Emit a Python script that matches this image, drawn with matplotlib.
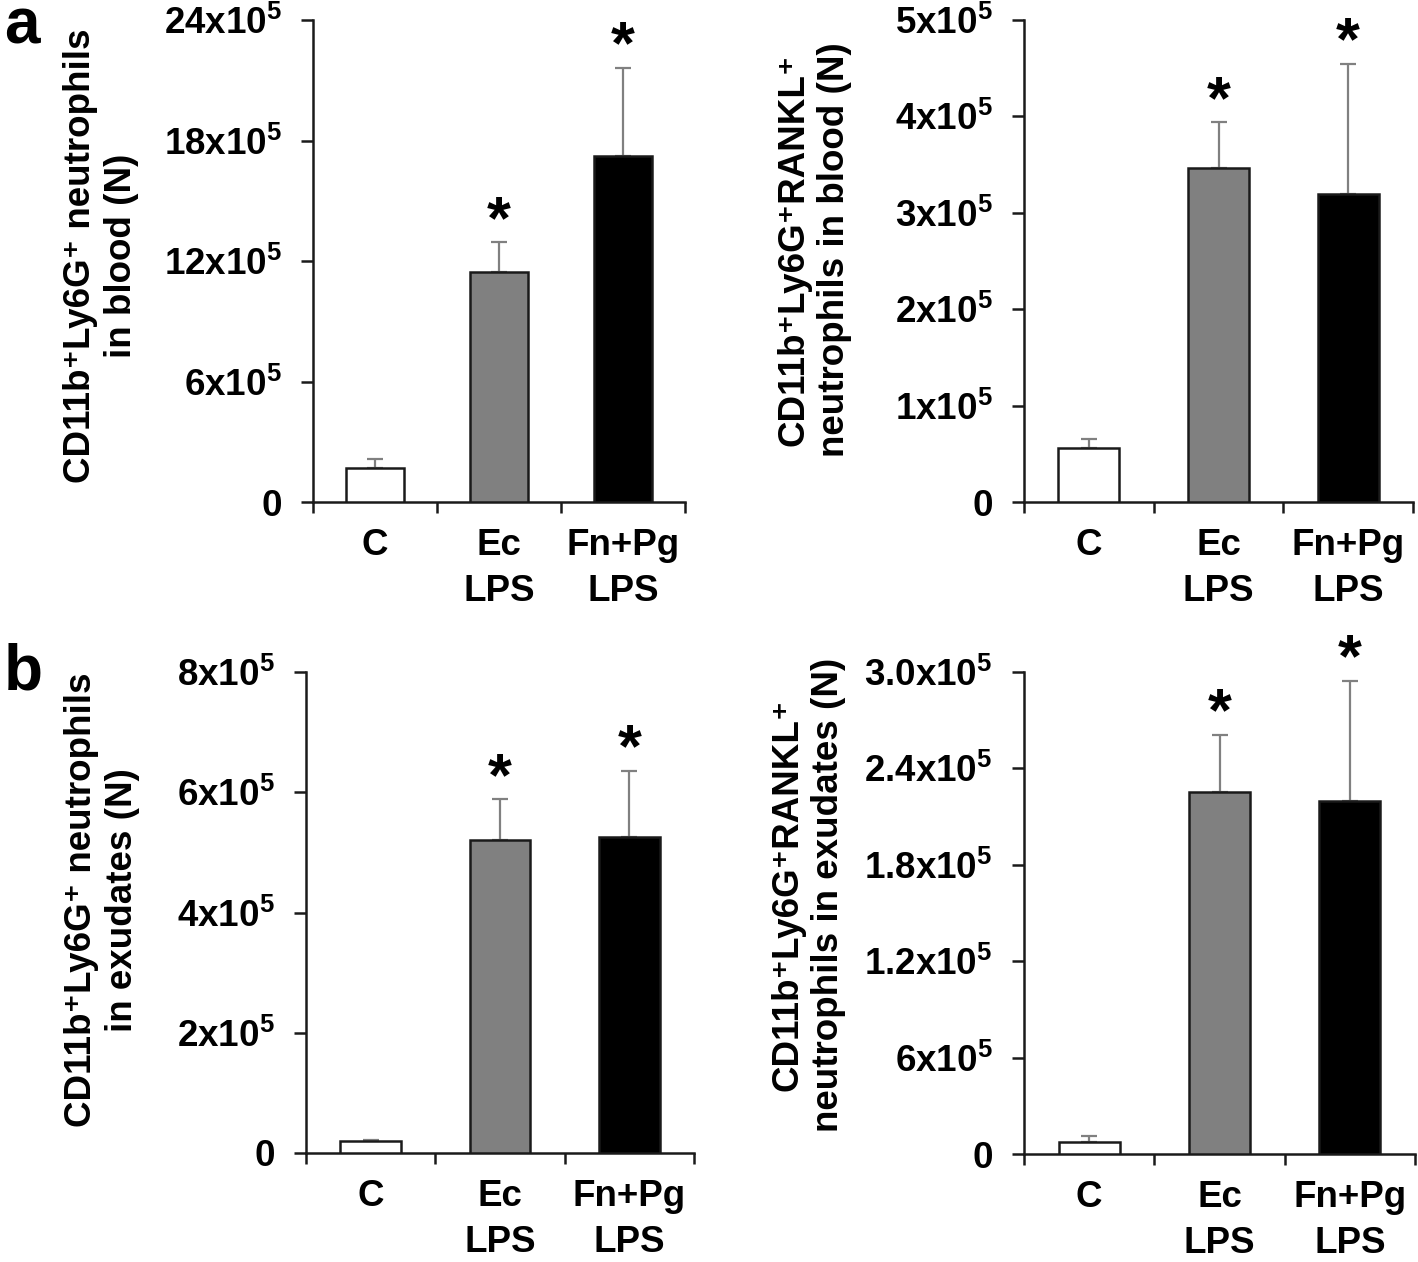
import matplotlib
matplotlib.use("Agg")
import matplotlib.pyplot as plt
import numpy as np

# ---------------- data (values in units of 10^5 cells) ----------------
categories = ["C", "Ec\nLPS", "Fn+Pg\nLPS"]
significant = [False, True, True]

blood_total_mean = [1.71, 11.45, 17.25]
blood_total_err = [0.45, 1.49, 4.37]

blood_rankl_mean = [0.563, 3.467, 3.20]
blood_rankl_err = [0.094, 0.473, 1.348]

exud_total_mean = [0.20, 5.20, 5.25]
exud_total_err = [0.02, 0.68, 1.11]

exud_rankl_mean = [0.074, 2.254, 2.20]
exud_rankl_err = [0.037, 0.356, 0.746]

blood_total_ticks = [0, 6, 12, 18, 24]
blood_total_ticklabels = ["0", "6x10$^5$", "12x10$^5$", "18x10$^5$", "24x10$^5$"]
blood_rankl_ticks = [0, 1, 2, 3, 4, 5]
blood_rankl_ticklabels = ["0", "1x10$^5$", "2x10$^5$", "3x10$^5$", "4x10$^5$", "5x10$^5$"]
exud_total_ticks = [0, 2, 4, 6, 8]
exud_total_ticklabels = ["0", "2x10$^5$", "4x10$^5$", "6x10$^5$", "8x10$^5$"]
exud_rankl_ticks = [0, 0.6, 1.2, 1.8, 2.4, 3.0]
exud_rankl_ticklabels = ["0", "6x10$^5$", "1.2x10$^5$", "1.8x10$^5$", "2.4x10$^5$", "3.0x10$^5$"]

ylabel_blood_total = "CD11b\u207aLy6G\u207a neutrophils\nin blood (N)"
ylabel_blood_rankl = "CD11b\u207aLy6G\u207aRANKL\u207a\nneutrophils in blood (N)"
ylabel_exud_total = "CD11b\u207aLy6G\u207a neutrophils\nin exudates (N)"
ylabel_exud_rankl = "CD11b\u207aLy6G\u207aRANKL\u207a\nneutrophils in exudates (N)"

bar_colors = ["white", "#808080", "black"]

# ---------------- style ----------------
plt.rcParams["font.family"] = ["Liberation Sans", "DejaVu Sans"]
plt.rcParams["font.weight"] = "bold"
plt.rcParams["mathtext.default"] = "regular"

W, H = 1418, 1262
fig = plt.figure(figsize=(W / 100, H / 100), dpi=100)

FS = 26.5


def px_axes(left, right, top, bottom):
    return [left / W, 1 - bottom / H, (right - left) / W, (bottom - top) / H]


def panel(rect, means, errs, ticks, ticklabels, ylabel, ylab_x, ylab_y):
    ax = fig.add_axes(px_axes(*rect))
    x = np.arange(len(categories))
    ax.bar(x, means, width=0.47, color=bar_colors, edgecolor="#1a1a1a",
           linewidth=1.8, zorder=3)
    ax.errorbar(x, means, yerr=[np.zeros(len(errs)), errs], fmt="none",
                ecolor="#808080", elinewidth=1.6, capsize=6, capthick=1.6,
                zorder=2)
    for xi, m, e, s in zip(x, means, errs, significant):
        if s:
            ax.annotate("*", (xi, m + e), xytext=(0, 3),
                        textcoords="offset points", ha="center",
                        va="baseline", fontsize=44, fontweight="bold",
                        annotation_clip=False)
    ax.set_xlim(-0.5, 2.5)
    ax.set_ylim(0, ticks[-1])
    ax.set_yticks(ticks)
    ax.set_yticklabels(ticklabels, fontsize=FS, fontweight="bold")
    ax.set_xticks(x)
    ax.set_xticklabels(categories, fontsize=FS, fontweight="bold",
                       linespacing=1.4)
    ax.set_xticks([-0.5, 0.5, 1.5, 2.5], minor=True)
    ax.tick_params(axis="x", which="major", length=0, pad=19)
    ax.tick_params(axis="x", which="minor", length=8, width=1.8,
                   direction="out", color="#1a1a1a")
    ax.tick_params(axis="y", length=8.5, width=1.8, pad=14,
                   direction="out", color="#1a1a1a")
    for side in ["top", "right"]:
        ax.spines[side].set_visible(False)
    for side in ["left", "bottom"]:
        ax.spines[side].set_linewidth(1.8)
        ax.spines[side].set_color("#1a1a1a")
    fig.text(ylab_x / W, 1 - ylab_y / H, ylabel, rotation=90, ha="center",
             va="center", fontsize=FS, fontweight="bold", linespacing=1.2)
    return ax


panel((313, 685, 20, 502), blood_total_mean, blood_total_err,
      blood_total_ticks, blood_total_ticklabels, ylabel_blood_total, 101, 256)
panel((1024, 1413, 20, 502), blood_rankl_mean, blood_rankl_err,
      blood_rankl_ticks, blood_rankl_ticklabels, ylabel_blood_rankl, 814, 250)
panel((306, 694, 672, 1153), exud_total_mean, exud_total_err,
      exud_total_ticks, exud_total_ticklabels, ylabel_exud_total, 102, 900)
panel((1024, 1415, 672, 1154), exud_rankl_mean, exud_rankl_err,
      exud_rankl_ticks, exud_rankl_ticklabels, ylabel_exud_rankl, 808, 895)

fig.text(4 / W, 1 - 43 / H, "a", fontsize=46, fontweight="bold",
         ha="left", va="baseline")
fig.text(4 / W, 1 - 690 / H, "b", fontsize=46, fontweight="bold",
         ha="left", va="baseline")

fig.savefig("out.png", dpi=100)
